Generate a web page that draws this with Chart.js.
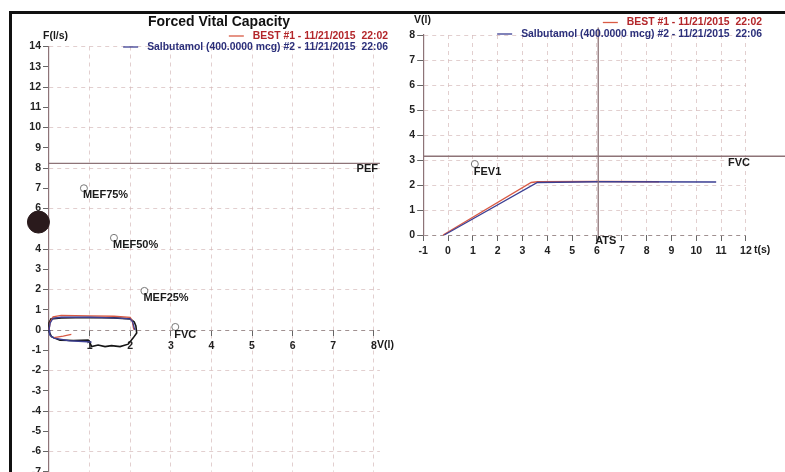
<!DOCTYPE html>
<html><head><meta charset="utf-8">
<script src="https://cdn.jsdelivr.net/npm/chart.js@4.4.1/dist/chart.umd.min.js"></script>
<style>
html,body{margin:0;padding:0;background:#fff;overflow:hidden;width:785px;height:472px;}
#frame{position:absolute;left:9px;top:11px;width:820px;height:520px;border-top:3px solid #111;border-left:3px solid #111;}
canvas{position:absolute;left:0;top:0;}
</style></head><body>
<div id="frame"></div>
<canvas id="fv" width="785" height="520"></canvas>
<canvas id="vt" width="785" height="520"></canvas>
<script>
// ---------- tick labels ----------
const flowTicks = [-7,-6,-5,-4,-3,-2,-1,0,1,2,3,4,5,6,7,8,9,10,11,12,13,14];
const volTicksFV = [0,1,2,3,4,5,6,7,8];
const volTicksVT = [0,1,2,3,4,5,6,7,8];
const timeTicks = [-1,0,1,2,3,4,5,6,7,8,9,10,11,12];

// ---------- legend ----------
const seriesNames = ['BEST #1 - 11/21/2015  22:02', 'Salbutamol (400.0000 mcg) #2 - 11/21/2015  22:06'];

// ---------- flow-volume loop (BEST, red) ----------
const bestExpVol  = [0, 0.03, 0.1, 0.3, 1.0, 1.6, 2.0, 2.05, 2.08, 2.1];
const bestExpFlow = [0, 0.4, 0.65, 0.72, 0.7, 0.68, 0.62, 0.45, 0.1, 0];
const bestInspVol  = [0.12, 0.35, 0.55];
const bestInspFlow = [-0.38, -0.3, -0.22];
// ---------- flow-volume loop (Salbutamol, blue) ----------
const salbExpVol  = [0, 0.03, 0.1, 0.3, 1.0, 1.6, 2.0, 2.06, 2.1, 2.12];
const salbExpFlow = [0, 0.35, 0.58, 0.63, 0.63, 0.6, 0.55, 0.4, 0.1, 0];
const salbInspVol  = [0, 0.02, 0.12, 0.5, 0.95, 1.05];
const salbInspFlow = [0, -0.25, -0.4, -0.53, -0.58, -0.6];
// ---------- hand-drawn pen mark ----------
const penVol  = [0.98, 0.6, 0.27, 0.06, 0.0, 0.0, 0.05, 0.3, 1.0, 1.6, 2.0, 2.1, 2.14, 2.16, 2.07, 1.95, 1.75, 1.54, 1.38, 1.21, 1.05, 0.98];
const penFlow = [-0.5, -0.52, -0.5, -0.33, -0.08, 0.35, 0.55, 0.6, 0.62, 0.6, 0.55, 0.4, 0.2, -0.15, -0.4, -0.7, -0.82, -0.77, -0.82, -0.74, -0.82, -0.5];
// ---------- markers ----------
const markerNames = ['MEF75%', 'MEF50%', 'MEF25%', 'FVC'];
const markerVol  = [0.86, 1.6, 2.35, 3.11];
const markerFlow = [7.0, 4.55, 1.93, 0.15];
const pefValue = 8.23;
const blobVol = [-0.26];
const blobFlow = [5.33];

// ---------- volume-time ----------
const bestTime   = [-0.2, 3.35, 3.6, 6, 8.5];
const bestVolume = [0, 2.1, 2.13, 2.14, 2.13];
const salbTime   = [-0.15, 3.6, 6, 10.8];
const salbVolume = [0, 2.1, 2.13, 2.12];
const fev1Time = [1.08];
const fev1Volume = [2.84];
const fvcValue = 3.15;
const atsTime = 6.05;

// ---------- styling ----------
const FONT = '"Liberation Sans", Arial, sans-serif';
const RED = '#d95a44', BLUE = '#3c3f93';
const RED_TXT = '#b3262a', BLUE_TXT = '#2b2f7a';
const GRID = 'rgba(210,182,182,0.65)';
const ZERO = '#a09090';
const REF = '#8d7377';

function pts(xs, ys) { return xs.map((x, i) => ({x: x, y: ys[i]})); }
function lineDs(label, xs, ys, color, width) {
  return {label, data: pts(xs, ys), showLine: true, borderColor: color, backgroundColor: color,
          borderWidth: width, pointRadius: 0, tension: 0, clip: false};
}

const textPlugin = {
  id: 'texts',
  afterDatasetsDraw(chart, args, opts) {
    const ctx = chart.ctx;
    const xs = chart.scales.x, ys = chart.scales.y;
    (opts.items || []).forEach(it => {
      ctx.save();
      ctx.font = it.font;
      ctx.fillStyle = it.color || '#1a1a1a';
      ctx.textAlign = it.align || 'left';
      ctx.textBaseline = 'middle';
      const x = it.px !== undefined ? it.px : xs.getPixelForValue(it.x) + (it.dx || 0);
      const y = it.py !== undefined ? it.py : ys.getPixelForValue(it.y) + (it.dy || 0);
      ctx.fillText(it.text, x, y);
      if (it.swatch) {
        const w = ctx.measureText(it.text).width;
        const start = (it.align === 'right') ? x - w : x;
        ctx.strokeStyle = it.swatch; ctx.lineWidth = 1.3;
        ctx.beginPath(); ctx.moveTo(start - 24, y); ctx.lineTo(start - 9, y); ctx.stroke();
      }
      ctx.restore();
    });
  }
};

const tickFont = {family: FONT, size: 10.5, weight: 'bold'};
const LBL = 'bold 11px ' + FONT;
const LEG = 'bold 10.4px ' + FONT;
const AXW = 30;

// ================= Flow-volume chart =================
const markerItems = markerNames.map((n, i) => ({text: n, x: markerVol[i], y: markerFlow[i], dx: -1, dy: (n === 'FVC' ? 8 : 7), font: LBL}));
new Chart(document.getElementById('fv'), {
  type: 'scatter',
  data: { datasets: [
    lineDs('PEF', [0, 8.15], [pefValue, pefValue], REF, 1.3),
    lineDs(seriesNames[1] + ' exp', salbExpVol, salbExpFlow, BLUE, 1.3),
    lineDs(seriesNames[1] + ' insp', salbInspVol, salbInspFlow, BLUE, 1.3),
    lineDs(seriesNames[0] + ' exp', bestExpVol, bestExpFlow, RED, 1.3),
    lineDs(seriesNames[0] + ' insp', bestInspVol, bestInspFlow, RED, 1.3),
    lineDs('pen', penVol, penFlow, '#161616', 1.6),
    {label: 'markers', data: pts(markerVol, markerFlow), pointRadius: 3.5, pointBorderColor: '#777',
     pointBackgroundColor: '#fff', pointBorderWidth: 1, showLine: false, clip: false},
    {label: 'blob', data: pts(blobVol, blobFlow), pointRadius: 11, pointBackgroundColor: '#2a1a1c',
     pointBorderColor: '#2a1a1c', showLine: false, clip: false}
  ]},
  options: {
    responsive: false, animation: false, devicePixelRatio: 1,
    layout: {padding: {left: 49 - AXW, top: 46.5, right: 405.1, bottom: 48.25}},
    plugins: {
      legend: {display: false}, tooltip: {enabled: false},
      texts: {items: [
        {text: 'Forced Vital Capacity', px: 219, py: 22, align: 'center', font: 'bold 14px ' + FONT, color: '#111'},
        {text: seriesNames[0], px: 388, py: 36, align: 'right', font: LEG, color: RED_TXT, swatch: RED},
        {text: seriesNames[1], px: 388, py: 47, align: 'right', font: LEG, color: BLUE_TXT, swatch: BLUE},
        {text: 'F(l/s)', px: 43, py: 36, font: 'bold 10.5px ' + FONT},
        {text: 'V(l)', px: 377, py: 345.5, font: 'bold 10.5px ' + FONT},
        {text: 'PEF', px: 378, x: 0, y: pefValue, dy: 6, align: 'right', font: LBL}
      ].concat(markerItems)}
    },
    scales: {
      x: {
        type: 'linear', min: 0, max: 8.15, position: {y: 0},
        afterBuildTicks: s => { s.ticks = volTicksFV.map(v => ({value: v})); },
        ticks: {font: tickFont, color: '#222', padding: 3.5, autoSkip: false, maxRotation: 0,
                callback: v => (v === 0 ? '' : v)},
        grid: {color: c => (c.tick && c.tick.value === 0 ? 'transparent' : GRID),
               tickColor: c => (c.tick && c.tick.value === 0 ? 'transparent' : '#666'),
               tickLength: 6, lineWidth: 1},
        border: {display: false, dash: [4, 4]}
      },
      y: {
        type: 'linear', min: -7, max: 14, position: 'left',
        afterFit: s => { s.width = AXW; },
        afterBuildTicks: s => { s.ticks = flowTicks.map(v => ({value: v})); },
        ticks: {font: tickFont, color: '#222', padding: 2, autoSkip: false},
        grid: {color: c => (c.tick && c.tick.value === 0 ? ZERO : (c.tick && c.tick.value % 2 === 0 ? GRID : 'transparent')),
               tickColor: '#666', tickLength: 6, lineWidth: 1},
        border: {display: true, color: REF, width: 1.2, dash: [4, 4]}
      }
    }
  },
  plugins: [textPlugin]
});

// ================= Volume-time chart =================
new Chart(document.getElementById('vt'), {
  type: 'scatter',
  data: { datasets: [
    lineDs('FVC', [-1, 13.6], [fvcValue, fvcValue], REF, 1.3),
    lineDs('ATS', [atsTime, atsTime], [-0.2, 8.3], REF, 1.3),
    lineDs(seriesNames[1], salbTime, salbVolume, BLUE, 1.3),
    lineDs(seriesNames[0], bestTime, bestVolume, RED, 1.3),
    {label: 'FEV1', data: pts(fev1Time, fev1Volume), pointRadius: 3.5, pointBorderColor: '#777',
     pointBackgroundColor: '#fff', pointBorderWidth: 1, showLine: false, clip: false}
  ]},
  options: {
    responsive: false, animation: false, devicePixelRatio: 1,
    layout: {padding: {left: 423.17 - AXW, top: 35, right: 39.04, bottom: 285}},
    plugins: {
      legend: {display: false}, tooltip: {enabled: false},
      texts: {items: [
        {text: seriesNames[0], px: 762, py: 22.5, align: 'right', font: LEG, color: RED_TXT, swatch: RED},
        {text: seriesNames[1], px: 762, py: 34, align: 'right', font: LEG, color: BLUE_TXT, swatch: BLUE},
        {text: 'V(l)', px: 414, py: 20, font: 'bold 10.5px ' + FONT},
        {text: 't(s)', px: 754, py: 250, font: 'bold 10.5px ' + FONT},
        {text: 'FEV1', x: fev1Time[0], y: fev1Volume[0], dx: -1, dy: 8, font: LBL},
        {text: 'FVC', px: 750, x: 0, y: fvcValue, dy: 7, align: 'right', font: LBL},
        {text: 'ATS', x: atsTime, dx: -3, py: 240.5, font: LBL}
      ]}
    },
    scales: {
      x: {
        type: 'linear', min: -1, max: 12, position: {y: 0},
        afterBuildTicks: s => { s.ticks = timeTicks.map(v => ({value: v})); },
        ticks: {font: tickFont, color: '#222', padding: 3.5, autoSkip: false, maxRotation: 0},
        grid: {color: c => (c.tick && c.tick.value === -1 ? 'transparent' : GRID),
               tickColor: '#666', tickLength: 6, lineWidth: 1},
        border: {display: false, dash: [4, 4]}
      },
      y: {
        type: 'linear', min: 0, max: 8, position: 'left',
        afterFit: s => { s.width = AXW; },
        afterBuildTicks: s => { s.ticks = volTicksVT.map(v => ({value: v})); },
        ticks: {font: tickFont, color: '#222', padding: 2, autoSkip: false},
        grid: {color: c => (c.tick && c.tick.value === 0 ? ZERO : GRID),
               tickColor: '#666', tickLength: 6, lineWidth: 1},
        border: {display: true, color: REF, width: 1.2, dash: [4, 4]}
      }
    }
  },
  plugins: [textPlugin]
});
</script>
</body></html>
